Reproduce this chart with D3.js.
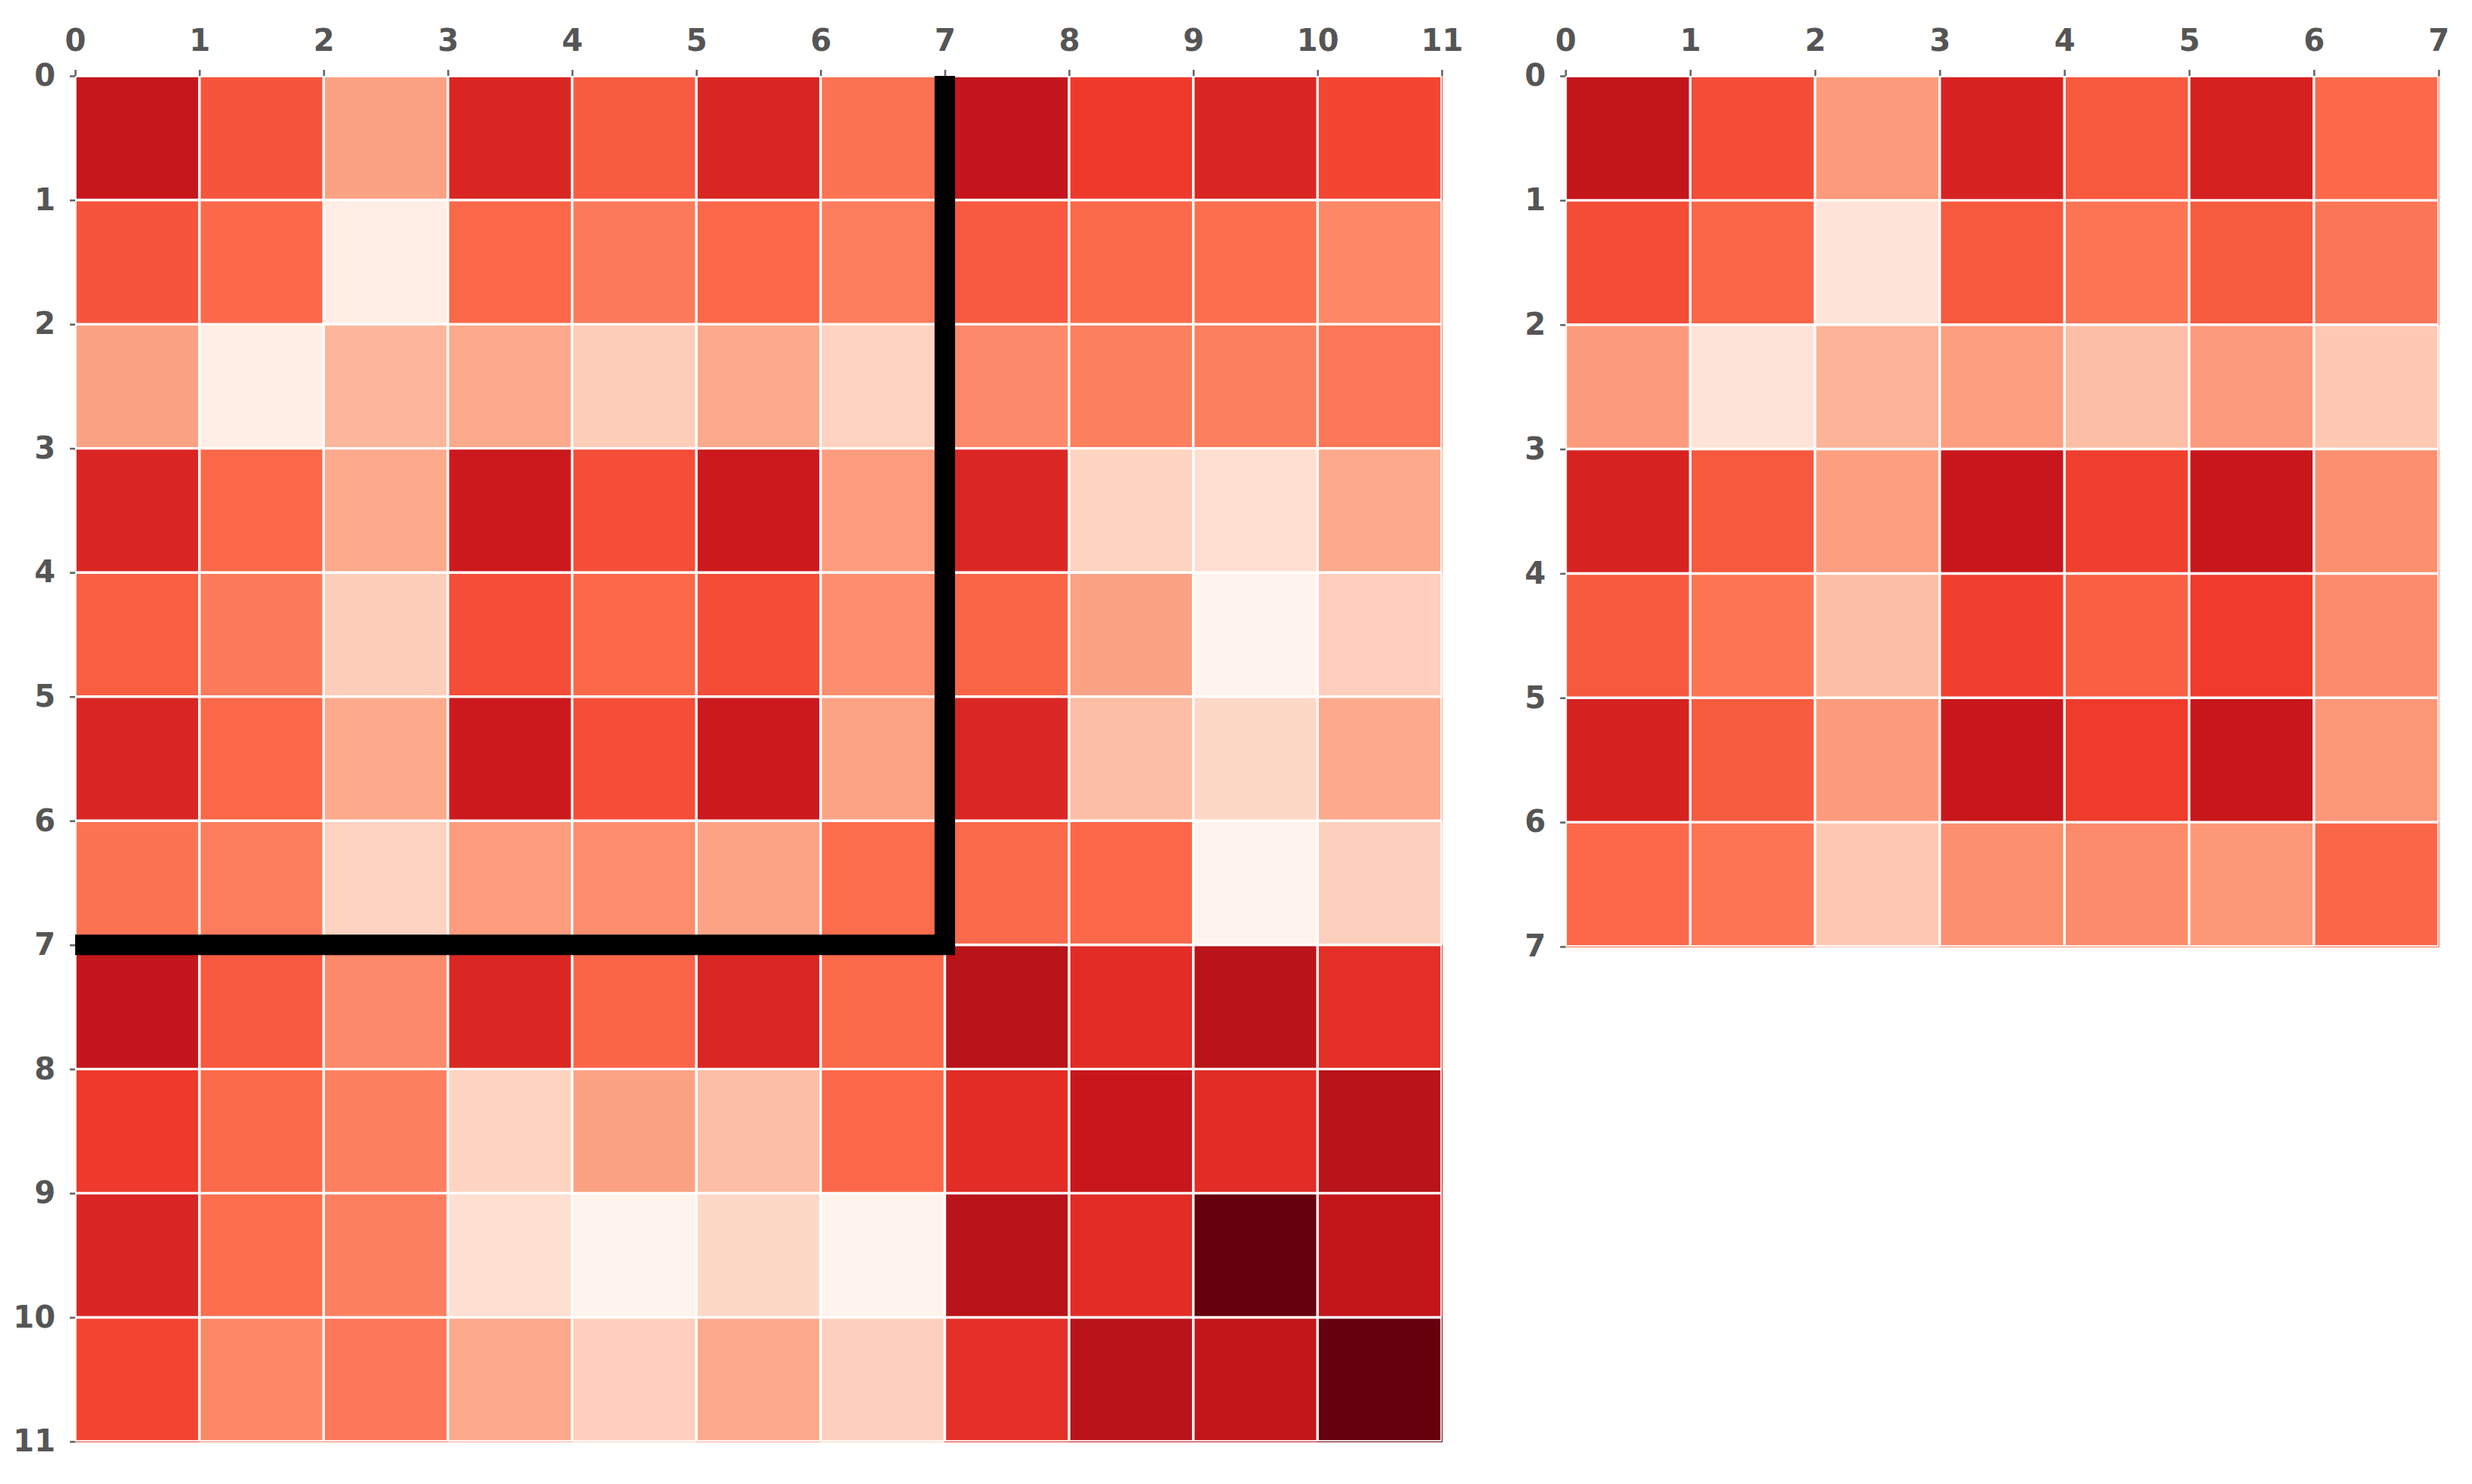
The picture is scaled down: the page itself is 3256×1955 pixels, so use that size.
<!DOCTYPE html>
<html>
<head>
<meta charset="utf-8">
<script src="https://cdn.jsdelivr.net/npm/d3@7"></script>
<style>
  html, body { margin: 0; padding: 0; background: #ffffff; }
  svg { display: block; }
</style>
</head>
<body>
<script>
// ---- data (0..1 on the Reds colour scale) ----
const leftTicks = [0,1,2,3,4,5,6,7,8,9,10,11];
const rightTicks = [0,1,2,3,4,5,6,7];

const leftMatrix = [
  [0.770, 0.556, 0.326, 0.700, 0.537, 0.700, 0.472, 0.773, 0.628, 0.700, 0.598],
  [0.556, 0.502, 0.042, 0.505, 0.450, 0.505, 0.440, 0.543, 0.500, 0.484, 0.406],
  [0.326, 0.042, 0.265, 0.305, 0.186, 0.305, 0.172, 0.400, 0.431, 0.434, 0.458],
  [0.700, 0.505, 0.305, 0.747, 0.577, 0.747, 0.345, 0.696, 0.169, 0.128, 0.305],
  [0.532, 0.450, 0.186, 0.577, 0.502, 0.580, 0.388, 0.513, 0.326, 0.010, 0.182],
  [0.700, 0.505, 0.305, 0.747, 0.577, 0.747, 0.322, 0.696, 0.240, 0.152, 0.305],
  [0.472, 0.440, 0.172, 0.345, 0.388, 0.322, 0.491, 0.500, 0.505, 0.010, 0.179],
  [0.773, 0.543, 0.400, 0.696, 0.513, 0.696, 0.500, 0.8125, 0.675, 0.8125, 0.668],
  [0.628, 0.500, 0.431, 0.169, 0.326, 0.240, 0.505, 0.675, 0.760, 0.675, 0.8125],
  [0.700, 0.484, 0.434, 0.128, 0.010, 0.152, 0.010, 0.8125, 0.675, 1.000, 0.776],
  [0.598, 0.406, 0.458, 0.305, 0.182, 0.305, 0.179, 0.668, 0.8125, 0.776, 1.000]
];

const rightMatrix = [
  [0.776, 0.580, 0.348, 0.711, 0.545, 0.714, 0.502],
  [0.580, 0.510, 0.101, 0.545, 0.466, 0.540, 0.462],
  [0.348, 0.101, 0.274, 0.338, 0.237, 0.348, 0.203],
  [0.711, 0.545, 0.338, 0.760, 0.614, 0.760, 0.384],
  [0.545, 0.466, 0.237, 0.614, 0.530, 0.625, 0.397],
  [0.714, 0.540, 0.348, 0.760, 0.625, 0.760, 0.360],
  [0.502, 0.466, 0.203, 0.384, 0.397, 0.360, 0.510]
];

// boundary drawn on the left heatmap (data coordinates)
const boundaryPoints = [[7, 0], [7, 7], [0, 7]];

// ---- drawing ----
const W = 3256, H = 1955;
const svg = d3.select("body").append("svg")
  .attr("width", W).attr("height", H)
  .attr("viewBox", `0 0 ${W} ${H}`);
svg.append("rect").attr("width", W).attr("height", H).attr("fill", "#ffffff");

// matplotlib-like Reds: piecewise linear through the 9 ColorBrewer stops
const redsStops = d3.schemeReds[9];
const color = d3.scaleLinear()
  .domain(redsStops.map((_, i) => i / (redsStops.length - 1)))
  .range(redsStops)
  .clamp(true);

function heatmap(matrix, ticks, x0, x1, y0, y1, boundary) {
  const n = matrix.length;
  const x = d3.scaleLinear().domain([0, n]).range([x0, x1]);
  const y = d3.scaleLinear().domain([0, n]).range([y0, y1]);
  const g = svg.append("g");

  const cells = [];
  matrix.forEach((row, i) => row.forEach((v, j) => cells.push({i, j, v})));
  g.selectAll("rect.cell").data(cells).enter().append("rect")
    .attr("class", "cell")
    .attr("x", d => x(d.j))
    .attr("y", d => y(d.i))
    .attr("width", d => x(d.j + 1) - x(d.j) + 0.5)
    .attr("height", d => y(d.i + 1) - y(d.i) + 0.5)
    .attr("fill", d => color(d.v))
    .attr("shape-rendering", "crispEdges");

  // clip for grid lines (axes area)
  const clipId = "clip" + Math.round(x0);
  svg.append("clipPath").attr("id", clipId)
    .append("rect").attr("x", x0).attr("y", y0)
    .attr("width", x1 - x0).attr("height", y1 - y0);

  const grid = g.append("g").attr("clip-path", `url(#${clipId})`);
  grid.selectAll("line.v").data(ticks).enter().append("line")
    .attr("x1", d => x(d)).attr("x2", d => x(d))
    .attr("y1", y0).attr("y2", y1)
    .attr("stroke", "#ffffff").attr("stroke-width", 3.4);
  grid.selectAll("line.h").data(ticks).enter().append("line")
    .attr("y1", d => y(d)).attr("y2", d => y(d))
    .attr("x1", x0).attr("x2", x1)
    .attr("stroke", "#ffffff").attr("stroke-width", 3.4);

  if (boundary) {
    const line = d3.line().x(d => x(d[0])).y(d => y(d[1]));
    g.append("path")
      .datum(boundary)
      .attr("d", line)
      .attr("fill", "none")
      .attr("stroke", "#000000")
      .attr("stroke-width", 27)
      .attr("stroke-linejoin", "miter")
      .attr("stroke-linecap", "butt");
  }

  const axTop = d3.axisTop(x).tickValues(ticks).tickFormat(d3.format("d"))
    .tickSize(8).tickPadding(25);
  const axLeft = d3.axisLeft(y).tickValues(ticks).tickFormat(d3.format("d"))
    .tickSize(7).tickPadding(19);

  const gt = svg.append("g").attr("transform", `translate(0,${y0})`).call(axTop);
  const gl = svg.append("g").attr("transform", `translate(${x0},0)`).call(axLeft);
  [gt, gl].forEach(a => {
    a.select(".domain").remove();
    a.selectAll(".tick line").attr("stroke", "#666666").attr("stroke-width", 2.6);
    a.selectAll(".tick text")
      .attr("fill", "#555555")
      .style("font-family", "'DejaVu Sans', sans-serif")
      .style("font-weight", "bold")
      .style("font-size", "40px");
  });
  gt.selectAll(".tick text").attr("dy", "0em");
}

heatmap(leftMatrix, leftTicks, 99, 1899, 100, 1899, boundaryPoints);
heatmap(rightMatrix, rightTicks, 2062, 3212, 100, 1247, null);
</script>
</body>
</html>
